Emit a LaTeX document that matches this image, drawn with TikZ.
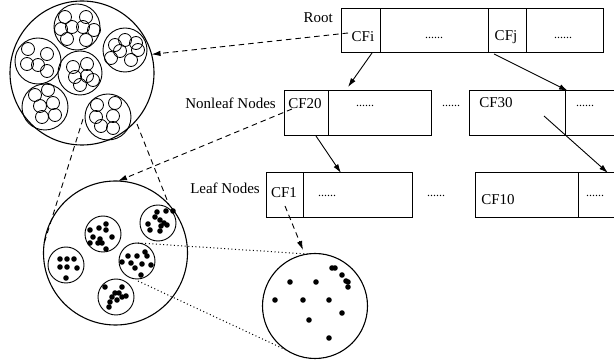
\documentclass[tikz,border=0pt]{standalone}
\usepackage{fontspec}
\setmainfont{Liberation Serif}
\usetikzlibrary{arrows.meta,calc}
\begin{document}
\begin{tikzpicture}[x=1pt,y=-1pt,
  cell/.style={draw, line width=1pt, minimum height=45pt, inner sep=0pt, outer sep=0pt, anchor=north west},
  txt/.style={font=\fontsize{15}{17}\selectfont, inner sep=0pt},
  dts/.style={font=\fontsize{12}{14}\selectfont, inner sep=0pt},
  big/.style={draw, circle, line width=1.1pt, inner sep=0pt, outer sep=0pt},
  arr/.style={-{Latex[length=9pt,width=5.5pt]}, line width=0.9pt},
  darr/.style={arr, dash pattern=on 5.5pt off 4pt},
  proj/.style={line width=0.9pt, dash pattern=on 5.5pt off 4pt},
  dotl/.style={line width=1pt, dash pattern=on 1pt off 2.6pt},
  sc/.style={line width=0.8pt},
  mid/.style={line width=0.9pt}]
\useasboundingbox (0,0) rectangle (614,363);
\clip (0,0) rectangle (614,363);

% ---------- Root ----------
\node[txt, anchor=east] (lroot) at (333,18) {Root};
\node[cell, minimum width=39pt, minimum height=44pt] (r1) at (341,9) {};
\node[cell, minimum width=108pt, minimum height=44pt] (r2) at (380,9) {};
\node[cell, minimum width=38pt, minimum height=44pt] (r3) at (488,9) {};
\node[cell, minimum width=77pt, minimum height=44pt] (r4) at (526,9) {};
\node[txt] (tcfi) at (363,37) {CFi};
\node[dts] (td1) at (434,38) {......};
\node[txt] (tcfj) at (506,37) {CFj};
\node[dts] (td2) at (563,38) {......};

% ---------- Nonleaf ----------
\node[txt, anchor=east] (lnon) at (276,103) {Nonleaf Nodes};
\node[cell, minimum width=44pt] (n1) at (284,91) {};
\node[cell, minimum width=103pt] (n2) at (328,91) {};
\node[cell, minimum width=96pt] (n3) at (469,91) {};
\node[cell, minimum width=60pt] (n4) at (565,91) {};
\node[txt] (tcf20) at (305,104) {CF20};
\node[dts] (td3) at (365,106) {......};
\node[dts] (td4) at (451,106) {......};
\node[txt] (tcf30) at (496,103) {CF30};
\node[dts] (td5) at (585,106) {......};

% ---------- Leaf ----------
\node[txt, anchor=east] (lleaf) at (260,188) {Leaf Nodes};
\node[cell, minimum width=37pt] (f1) at (266,173) {};
\node[cell, minimum width=109pt] (f2) at (303,173) {};
\node[cell, minimum width=103pt] (f3) at (475,173) {};
\node[cell, minimum width=60pt] (f4) at (578,173) {};
\node[txt] (tcf1) at (284,193) {CF1};
\node[dts] (td6) at (327,196) {......};
\node[dts] (td7) at (436,196) {......};
\node[txt] (tcf10) at (498,200) {CF10};
\node[dts] (td8) at (595,196) {......};

% ---------- big circles ----------
\node[big, minimum size=144pt] (C1) at (82,73) {};
\node[big, minimum size=144pt] (C2) at (115.5,253) {};
\node[big, minimum size=105pt] (C3) at (315,306) {};

% circle 1 sub-clusters
\foreach \c/\r in {(77,27)/23,(125,50)/22,(38,61)/23,(80,73)/22,(45,107)/23,(108,117)/23}
  \draw[mid] \c circle (\r pt);
\foreach \p in {(65,17),(86,17),(61,29),(72,27),(83,27),(94,30),(67,39),(86,40),
                (115,45),(125,40),(136,43),(111,58),(120,51),(131,60),(138,50),
                (28,49),(47,54),(27,64),(38,65),(47,71),
                (73,67),(87,64),(75,77),(87,76),(93,80),(80,85),
                (35,95),(48,90),(40,106),(53,103),(55,115),(42,117),
                (97,105),(115,103),(96,117),(113,116),(113,128),(101,126)}
  \draw[sc] \p circle (6.5pt);

% circle 2 sub-clusters
\foreach \c in {(158,223),(103,234),(66,265),(137,261),(116,297)}
  \draw[mid] \c circle (18pt);
\foreach \p in {(157,212),(166,211),(173,211),(155,217),(160,220),(164,223),(148,224),(161,226),(167,225),(150,230),(160,231),
                (99,228),(106,224),(106,230),(90,230),(93,237),(100,239),(102,243),(98,243),(90,243),(112,237),(106,249),
                (60,259),(67,259),(74,259),(60,267),(67,267),(77,268),(66,278),
                (128,256),(137,256),(145,252),(147,256),(122,262),(131,263),(142,264),(151,265),(135,268),(141,275),
                (105,287),(122,287),(115,293),(119,293),(112,297),(117,300),(122,297),(126,296),(110,302),(109,307)}
  \fill \p circle (2.8pt);

% circle 3 points
\foreach \p in {(332,268),(335,268),(342,275),(346,281),(348,282),(348,287),(290,282),(316,282),
                (275,300),(303,300),(329,300),(342,313),(309,320),(329,338)}
  \fill \p circle (2.8pt);

% ---------- connectors ----------
\coordinate (aCFi) at (348,33);
\draw[darr] (aCFi) -- (C1.15);

\coordinate (s1) at (372,53);
\coordinate (e1) at (348,87);
\draw[arr] (s1) -- (e1);
\coordinate (s2) at (494,54);
\coordinate (e2) at (568,91);
\draw[arr] (s2) -- (e2);
\coordinate (s3) at (316,136);
\coordinate (e3) at (341,173);
\draw[arr] (s3) -- (e3);
\coordinate (s4) at (544,116);
\coordinate (e4) at (608,173);
\draw[arr] (s4) -- (e4);

\coordinate (aCF20) at (292,109);
\draw[darr] (aCF20) -- (C2.88);

\coordinate (aCF1) at (285,206);
\coordinate (eCF1) at (303,250);
\draw[darr] (aCF1) -- (eCF1);

% projection lines from circle 1 to circle 2
\coordinate (p1) at (83,119);
\coordinate (p2) at (137,124);
\draw[proj] (p1) -- (C2.172);
\draw[proj] (p2) -- (C2.42);

% dotted zoom lines from circle 2 to circle 3
\coordinate (q1) at (138,243);
\coordinate (q2) at (138,281);
\draw[dotl] (q1) -- (C3.98);
\draw[dotl] (q2) -- (C3.238);
\end{tikzpicture}
\end{document}
